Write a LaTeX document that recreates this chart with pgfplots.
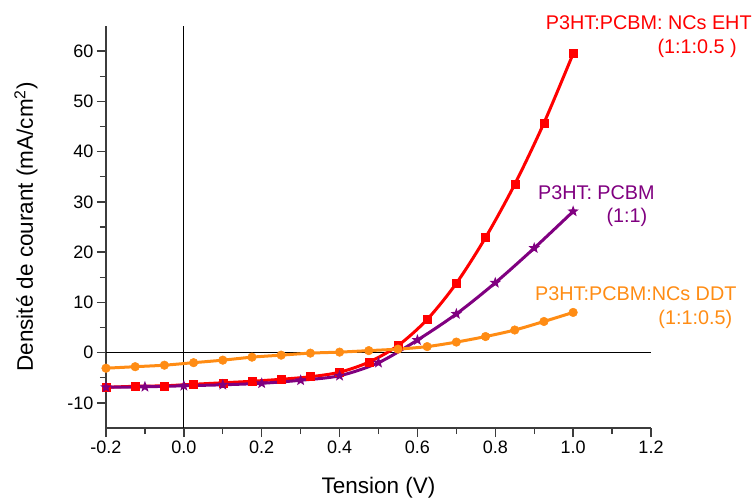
\documentclass[border=0pt]{standalone}
\usepackage{pgfplots}
\pgfplotsset{compat=1.18}
\usetikzlibrary{shapes.geometric}
\usepackage{fontspec}
\setmainfont{Liberation Sans}
\definecolor{cred}{RGB}{255,0,0}
\definecolor{cpurple}{RGB}{128,0,128}
\definecolor{corange}{RGB}{255,140,20}
\definecolor{axgray}{RGB}{60,60,60}
\pgfdeclareplotmark{fstar}{\node[star, star points=5, star point ratio=2.4, fill, draw=none, inner sep=0pt, minimum size=12pt] {};}
\begin{document}
\begin{tikzpicture}
\path[use as bounding box] (-106pt,-70pt) rectangle (649pt,428pt);
\begin{axis}[
  at={(0pt,0pt)}, anchor=south west,
  scale only axis, width=545pt, height=402pt,
  xmin=-0.2, xmax=1.2, ymin=-15, ymax=65,
  axis lines=left, axis line style={-, line width=1.3pt, color=axgray},
  xtick={-0.2,0,0.2,0.4,0.6,0.8,1.0,1.2},
  ytick={-10,0,10,20,30,40,50,60},
  minor x tick num=1, minor y tick num=1,
  tick align=outside,
  major tick length=9pt, minor tick length=6pt,
  every tick/.style={line width=1.3pt, color=axgray},
  /pgf/number format/assume math mode=true,
  xticklabel style={/pgf/number format/.cd, fixed, fixed zerofill, precision=1},
  yticklabel style={/pgf/number format/.cd, fixed, precision=0},
  tick label style={font=\fontsize{18}{21}\selectfont},
  xlabel={Tension (V)},
  ylabel={Densité de courant (mA/cm\textsuperscript{2})},
  label style={font=\fontsize{22.5}{26}\selectfont},
  xlabel style={at={(axis description cs:0.5,-0.164)}, anchor=base},
  ylabel style={at={(axis description cs:-0.134,0.5)}, anchor=base, rotate=0},
  clip=false,
]
\draw[black, line width=1pt] (axis cs:-0.2,0) -- (axis cs:1.2,0);
\draw[black, line width=1pt] (axis cs:0,-15) -- (axis cs:0,65);
\addplot[cred, line width=3pt, smooth, tension=0.5, mark=square*, mark size=4pt, mark options={solid, line width=0.5pt}] coordinates {
(-0.2,-6.9) (-0.125,-6.7) (-0.05,-6.6) (0.025,-6.3) (0.1,-6.0) (0.175,-5.7) (0.25,-5.3) (0.325,-4.8) (0.4,-3.9) (0.475,-1.9) (0.55,1.4) (0.625,6.6) (0.7,13.8) (0.775,22.9) (0.85,33.5) (0.925,45.7) (1.0,59.5)};
\addplot[cpurple, line width=3pt, smooth, tension=0.5, mark=fstar] coordinates {
(-0.2,-6.9) (-0.1,-6.8) (0,-6.6) (0.1,-6.4) (0.2,-6.1) (0.3,-5.5) (0.4,-4.6) (0.5,-2.0) (0.6,2.5) (0.7,7.7) (0.8,13.9) (0.9,20.8) (1.0,28.1)};
\addplot[corange, line width=3pt, smooth, tension=0.5, mark=*, mark size=4.3pt, mark options={solid, line width=0.5pt}] coordinates {
(-0.2,-3.1) (-0.125,-2.8) (-0.05,-2.5) (0.025,-2.0) (0.1,-1.5) (0.175,-0.9) (0.25,-0.5) (0.325,-0.1) (0.4,0.1) (0.475,0.4) (0.55,0.7) (0.625,1.2) (0.7,2.1) (0.775,3.2) (0.85,4.5) (0.925,6.2) (1.0,8.0)};
\node[anchor=base east, inner sep=0pt, text=cred, font=\fontsize{19.8}{23}\selectfont] at (axis cs:1.459,64.4) {P3HT:PCBM: NCs EHT};
\node[anchor=base east, inner sep=0pt, text=cred, font=\fontsize{19.8}{23}\selectfont] at (axis cs:1.421,59.5) {(1:1:0.5 )};
\node[anchor=base east, inner sep=0pt, text=cpurple, font=\fontsize{19.8}{23}\selectfont] at (axis cs:1.210,30.4) {P3HT: PCBM};
\node[anchor=base east, inner sep=0pt, text=cpurple, font=\fontsize{19.8}{23}\selectfont] at (axis cs:1.191,25.8) {(1:1)};
\node[anchor=base east, inner sep=0pt, text=corange, font=\fontsize{19.8}{23}\selectfont] at (axis cs:1.420,10.4) {P3HT:PCBM:NCs DDT};
\node[anchor=base east, inner sep=0pt, text=corange, font=\fontsize{19.8}{23}\selectfont] at (axis cs:1.409,5.6) {(1:1:0.5)};
\end{axis}
\end{tikzpicture}
\end{document}
